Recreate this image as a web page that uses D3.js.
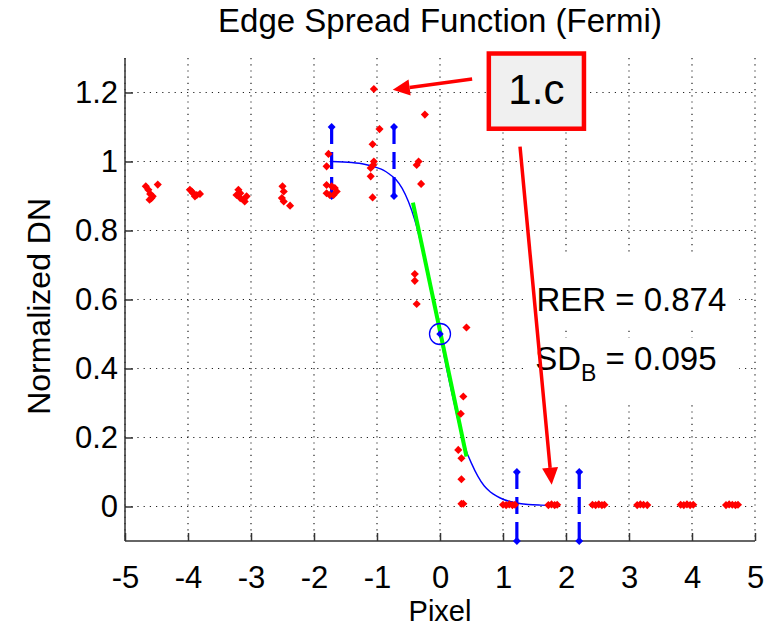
<!DOCTYPE html>
<html>
<head>
<meta charset="utf-8">
<script src="https://cdn.jsdelivr.net/npm/d3@7"></script>
<style>
  body { margin: 0; background: #fff; }
  text { font-family: "Liberation Sans", Arial, sans-serif; }
</style>
</head>
<body>
<div id="chart"></div>
<script>
var svgWidth = 777;
var svgHeight = 628;

var margin = { top: 58, right: 22, bottom: 87, left: 125 };
var width = svgWidth - margin.left - margin.right;
var height = svgHeight - margin.top - margin.bottom;

// edge samples (red)
var espX = [-4.67, -4.63, -4.60, -4.58, -4.61, -4.56, -4.48,
  -3.97, -3.92, -3.86, -3.81, -3.89, -3.94,
  -3.20, -3.23, -3.17, -3.12, -3.07, -3.10, -3.17,
  -2.50, -2.48, -2.51, -2.48, -2.38,
  -1.80, -1.72, -1.67, -1.64, -1.75, -1.80, -1.69, -1.77, -1.80,
  -1.05, -0.96, -1.07, -1.05, -1.10, -1.10, -1.07, -1.06,
  -0.24, -0.34, -0.37, -0.30,
  -0.40, -0.40, -0.37, 0.42,
  0.37, 0.33, 0.29, 0.34, 0.34, 0.34, 0.37,
  1.00, 1.05, 1.10, 1.15, 1.19,
  1.72, 1.77, 1.82, 1.86,
  2.42, 2.47, 2.52, 2.57, 2.61,
  3.13, 3.18, 3.23, 3.29,
  3.82, 3.87, 3.92, 3.97, 4.02,
  4.54, 4.59, 4.64, 4.69, 4.73];
var espY = [0.928, 0.918, 0.906, 0.894, 0.889, 0.899, 0.933,
  0.918, 0.908, 0.903, 0.906, 0.899, 0.913,
  0.918, 0.903, 0.894, 0.889, 0.899, 0.884, 0.908,
  0.928, 0.913, 0.894, 0.884, 0.872,
  0.932, 0.928, 0.923, 0.913, 0.903, 0.908, 0.903, 1.022, 0.986,
  1.21, 1.094, 1.050, 1.0, 0.981, 0.957, 0.896, 0.99,
  1.136, 1.0, 0.990, 0.935,
  0.674, 0.654, 0.587, 0.519,
  0.319, 0.269, 0.164, 0.140, 0.079, 0.008, 0.008,
  0.005, 0.004, 0.006, 0.004, 0.005,
  0.004, 0.006, 0.004, 0.005,
  0.005, 0.004, 0.006, 0.004, 0.005,
  0.004, 0.006, 0.005, 0.004,
  0.005, 0.004, 0.006, 0.004, 0.005,
  0.004, 0.006, 0.005, 0.004, 0.005];

// fitted fermi curve (blue)
var fitX = [-1.72, -1.4, -1.2, -1.0, -0.9, -0.8, -0.7, -0.6, -0.5, -0.4, -0.3, -0.2, -0.1, 0,
  0.1, 0.2, 0.3, 0.4, 0.5, 0.6, 0.7, 0.8, 0.9, 1.0, 1.2, 1.4, 1.6, 1.85];
var fitY = [1.0, 0.997, 0.992, 0.982, 0.975, 0.963, 0.948, 0.922, 0.883, 0.83, 0.76, 0.68, 0.595, 0.5,
  0.405, 0.32, 0.24, 0.17, 0.125, 0.088, 0.06, 0.042, 0.03, 0.021, 0.011, 0.006, 0.004, 0.003];

// linear slope segment (green)
var slopeX = [-0.43, 0.42];
var slopeY = [0.881, 0.145];

// bound markers (blue dashed)
var boundX = [-1.72, -0.73, 1.22, 2.21];
var boundLo = [0.9, 0.9, -0.1, -0.1];
var boundHi = [1.1, 1.1, 0.1, 0.1];

var centerPt = [0, 0.5];

var xTicks = [-5, -4, -3, -2, -1, 0, 1, 2, 3, 4, 5];
var xTickLabels = ["-5", "-4", "-3", "-2", "-1", "0", "1", "2", "3", "4", "5"];
var yTicks = [0, 0.2, 0.4, 0.6, 0.8, 1, 1.2];
var yTickLabels = ["0", "0.2", "0.4", "0.6", "0.8", "1", "1.2"];

var svg = d3.select("#chart")
  .append("svg")
  .attr("width", svgWidth)
  .attr("height", svgHeight);

var chartGroup = svg.append("g")
  .attr("transform", `translate(${margin.left}, ${margin.top})`);

var x = d3.scaleLinear().domain([-5, 5]).range([0, width]);
var y = d3.scaleLinear().domain([-0.1, 1.3]).range([height, 0]);

// grid
chartGroup.append("g")
  .selectAll("line")
  .data(xTicks)
  .enter()
  .append("line")
  .attr("x1", d => x(d)).attr("x2", d => x(d))
  .attr("y1", 0).attr("y2", height)
  .attr("stroke", "#222")
  .attr("stroke-width", 1.2)
  .attr("stroke-dasharray", "1.2,5");

chartGroup.append("g")
  .selectAll("line")
  .data(yTicks)
  .enter()
  .append("line")
  .attr("x1", 0).attr("x2", width)
  .attr("y1", d => y(d)).attr("y2", d => y(d))
  .attr("stroke", "#222")
  .attr("stroke-width", 1.2)
  .attr("stroke-dasharray", "1.2,5");

// axes
var bottomAxis = d3.axisBottom(x).tickValues(xTicks).tickSize(-8).tickPadding(25)
  .tickFormat((d, i) => xTickLabels[i]);
var leftAxis = d3.axisLeft(y).tickValues(yTicks).tickSize(-8).tickPadding(7)
  .tickFormat((d, i) => yTickLabels[i]);

var xAxis = chartGroup.append("g")
  .attr("transform", `translate(0, ${height})`)
  .call(bottomAxis);
var yAxis = chartGroup.append("g").call(leftAxis);

[xAxis, yAxis].forEach(function(a) {
  a.select(".domain").attr("stroke", "#333").attr("stroke-width", 1.5);
  a.selectAll(".tick line").attr("stroke", "#333").attr("stroke-width", 1.5);
  a.selectAll(".tick text")
    .attr("font-family", "Liberation Sans, Arial, sans-serif")
    .attr("font-size", "31px")
    .attr("fill", "#000");
});
yAxis.select(".domain").attr("d", `M0,${height}V0`);
xAxis.select(".domain").attr("d", `M0,0H${width}`);

// text panels with white backing
var statsGroup = chartGroup.append("g");
statsGroup.append("rect")
  .attr("x", x(1.32)).attr("y", y(0.73))
  .attr("width", x(4.75) - x(1.32)).attr("height", y(0.515) - y(0.73))
  .attr("fill", "#fff");
statsGroup.append("rect")
  .attr("x", x(1.32)).attr("y", y(0.49))
  .attr("width", x(4.75) - x(1.32)).attr("height", y(0.305) - y(0.49))
  .attr("fill", "#fff");

statsGroup.append("text")
  .attr("x", x(1.53)).attr("y", y(0.568))
  .attr("font-size", "33px")
  .text("RER = 0.874");

var sdText = statsGroup.append("text")
  .attr("x", x(1.51)).attr("y", y(0.396))
  .attr("font-size", "33px");
sdText.append("tspan").text("SD");
sdText.append("tspan").attr("font-size", "23px").attr("dy", 11).text("B");
sdText.append("tspan").attr("dy", -11).text(" = 0.095");

// fitted curve
var fitLine = d3.line()
  .x(d => x(d[0]))
  .y(d => y(d[1]))
  .curve(d3.curveMonotoneX);

chartGroup.append("path")
  .datum(fitX.map((d, i) => [d, fitY[i]]))
  .attr("d", fitLine)
  .attr("fill", "none")
  .attr("stroke", "#0000ff")
  .attr("stroke-width", 1.4);

// green slope
chartGroup.append("line")
  .attr("x1", x(slopeX[0])).attr("y1", y(slopeY[0]))
  .attr("x2", x(slopeX[1])).attr("y2", y(slopeY[1]))
  .attr("stroke", "#00ff00")
  .attr("stroke-width", 4);

// bound markers
var diamond = d3.symbol().type(d3.symbolDiamond2);

chartGroup.append("g")
  .selectAll("line")
  .data(boundX)
  .enter()
  .append("line")
  .attr("x1", d => x(d)).attr("x2", d => x(d))
  .attr("y1", (d, i) => y(boundHi[i])).attr("y2", (d, i) => y(boundLo[i]))
  .attr("stroke", "#0000ff")
  .attr("stroke-width", 3.2)
  .attr("stroke-dasharray", "17,8");

var ends = [];
boundX.forEach(function(d, i) {
  ends.push([d, boundHi[i]]);
  ends.push([d, boundLo[i]]);
});
chartGroup.append("g")
  .selectAll("path")
  .data(ends)
  .enter()
  .append("path")
  .attr("d", diamond.size(40))
  .attr("transform", d => `translate(${x(d[0])},${y(d[1])})`)
  .attr("fill", "#0000ff");

// red samples
chartGroup.append("g")
  .selectAll("path")
  .data(espX.map((d, i) => [d, espY[i]]))
  .enter()
  .append("path")
  .attr("d", diamond.size(42))
  .attr("transform", d => `translate(${x(d[0])},${y(d[1])})`)
  .attr("fill", "#ff0000");

// center marker
chartGroup.append("circle")
  .attr("cx", x(centerPt[0])).attr("cy", y(centerPt[1]))
  .attr("r", 10.5)
  .attr("fill", "none")
  .attr("stroke", "#0000ff")
  .attr("stroke-width", 1.3);
chartGroup.append("path")
  .attr("d", diamond.size(36))
  .attr("transform", `translate(${x(centerPt[0])},${y(centerPt[1])})`)
  .attr("fill", "#0000ff");

// callout
var callout = chartGroup.append("g");
callout.append("rect")
  .attr("x", x(0.775)).attr("y", y(1.313))
  .attr("width", x(2.285) - x(0.775)).attr("height", y(1.095) - y(1.313))
  .attr("fill", "#f0f0f0")
  .attr("stroke", "#ff0000")
  .attr("stroke-width", 4.5);
callout.append("text")
  .attr("x", x(1.53)).attr("y", y(1.168))
  .attr("text-anchor", "middle")
  .attr("font-family", "Lato, 'Open Sans', sans-serif")
  .attr("font-size", "42px")
  .text("1.c");

function arrow(x0, y0, x1, y1) {
  var px0 = x(x0), py0 = y(y0), px1 = x(x1), py1 = y(y1);
  var ang = Math.atan2(py1 - py0, px1 - px0);
  var len = 17, half = 8;
  var bx = px1 - len * Math.cos(ang), by = py1 - len * Math.sin(ang);
  callout.append("line")
    .attr("x1", px0).attr("y1", py0).attr("x2", bx).attr("y2", by)
    .attr("stroke", "#ff0000").attr("stroke-width", 3.5);
  callout.append("path")
    .attr("d", `M${px1},${py1}L${bx + half * Math.sin(ang)},${by - half * Math.cos(ang)}` +
      `L${bx - half * Math.sin(ang)},${by + half * Math.cos(ang)}Z`)
    .attr("fill", "#ff0000");
}
arrow(0.51, 1.239, -0.75, 1.208);
arrow(1.27, 1.043, 1.773, 0.063);

// titles
svg.append("text")
  .attr("x", margin.left + x(0)).attr("y", 32)
  .attr("text-anchor", "middle")
  .attr("font-size", "33px")
  .text("Edge Spread Function (Fermi)");

svg.append("text")
  .attr("x", margin.left + x(0)).attr("y", 621)
  .attr("text-anchor", "middle")
  .attr("font-size", "29px")
  .text("Pixel");

svg.append("text")
  .attr("transform", "rotate(-90)")
  .attr("x", -(margin.top + y(0.58)))
  .attr("y", 50)
  .attr("text-anchor", "middle")
  .attr("font-size", "32px")
  .text("Normalized DN");
</script>
</body>
</html>
